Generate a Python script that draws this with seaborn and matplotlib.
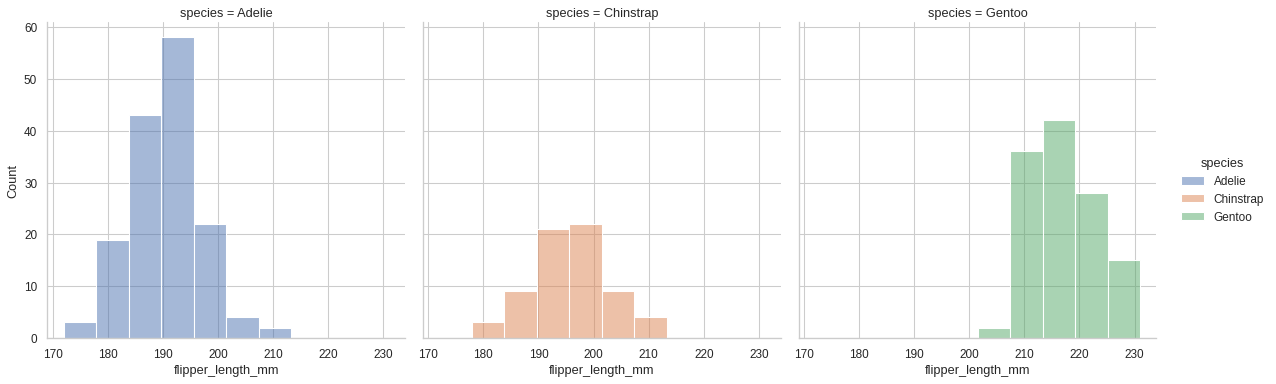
import numpy as np
import pandas as pd
import matplotlib
matplotlib.use("Agg")
import matplotlib.pyplot as plt
import seaborn as sns

# histogram counts (10 shared bins, 172 -> 231 mm)
bin_min = 172
bin_max = 231
n_bins = 10
species = ["Adelie", "Chinstrap", "Gentoo"]
adelie_counts = [3, 19, 43, 58, 22, 4, 2, 0, 0, 0]
chinstrap_counts = [0, 3, 9, 21, 22, 9, 4, 0, 0, 0]
gentoo_counts = [0, 0, 0, 0, 0, 2, 36, 42, 28, 15]

edges = np.linspace(bin_min, bin_max, n_bins + 1)
centers = (edges[:-1] + edges[1:]) / 2

rows = []
for name, counts in zip(species, [adelie_counts, chinstrap_counts, gentoo_counts]):
    for c, n in zip(centers, counts):
        rows.append({"species": name, "flipper_length_mm": c, "count": n})
df = pd.DataFrame(rows)
df["species"] = pd.Categorical(df["species"], categories=species)

sns.set_theme(style="whitegrid")
plt.rcParams["font.family"] = ["Liberation Sans", "DejaVu Sans"]

g = sns.displot(data=df, x="flipper_length_mm", hue="species", col="species",
                weights="count", bins=list(edges), height=5, aspect=1)

g.figure.set_size_inches(1280 / 76.6, 383 / 76.6)
g.figure.subplots_adjust(left=0.0375, right=0.904, bottom=0.115, top=0.939, wspace=0.05)
sns.move_legend(g, "center left", bbox_to_anchor=(0.915, 0.5))

g.savefig("out.png", dpi=76.6)
